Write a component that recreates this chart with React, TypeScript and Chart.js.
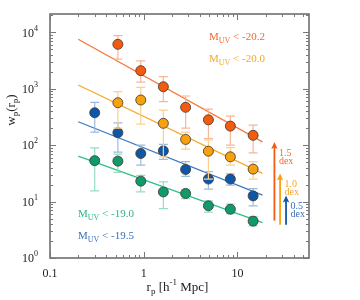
import React, { useEffect, useRef } from "react";
import { Chart, registerables } from "chart.js";

Chart.register(...registerables);

// ---- data ----
const rp = [0.3, 0.53, 0.93, 1.62, 2.8, 4.9, 8.4, 14.7];
const rpBright = rp.slice(1);

const redW = [6100, 2080, 1080, 467, 280, 217, 149];
const redHi = [8700, 3100, 1630, 741, 435, 327, 226];
const redLo = [3320, 1300, 587, 200, 130, 100, 73];

const orW = [563, 629, 243, 126, 78, 62, 37.5];
const orHi = [883, 1057, 418, 170, 123, 90, 51];
const orLo = [200, 236, 62, 85, 25, 44, 25];

const blW = [374, 166, 71, 79, 37, 25, 25, 12.6];
const blHi = [573, 248, 100, 103, 51, 34, 31, 17];
const blLo = [170, 75, 44, 56, 28, 16.6, 19.5, 8.4];

const grW = [53, 52, 23, 14.8, 13.9, 8.4, 7.3, 4.5];
const grHi = [89.5, 69, 29, 22.3, 16.5, 10.3, 9, 5.4];
const grLo = [15.5, 33, 14.8, 7.5, 11.3, 6.5, 6.1, 3.7];

const fitX = [0.2, 18.5];
const redFit = [7510, 114];
const orFit = [1161, 31.5];
const blFit = [259, 13];
const grFit = [63.8, 4.25];

const arrowX = [24.8, 28.5, 33];
const arrowBase = [4.6, 3.9, 3.9];
const arrowTop = [113, 31.5, 12.8];
const arrowLabel = ["1.5", "1.0", "0.5"];

const labels = ["-20.2", "-20.0", "-19.0", "-19.5"];
const xMajor = [0.1, 1, 10];
const yMajor = [1, 10, 100, 1000, 10000];
const yExp = ["0", "1", "2", "3", "4"];

const FONT = '"Liberation Serif", "DejaVu Serif", serif';

const C = {
  red: { pt: "#f45a10", line: "#f47a3c", err: "#f9b597", txt: "#f2692c" },
  or: { pt: "#f8a10e", line: "#f9a82a", err: "#fbd08e", txt: "#f4a62a" },
  bl: { pt: "#0d57a6", line: "#3b78c4", err: "#9cbbe0", txt: "#3a6fbf" },
  gr: { pt: "#0f9a6c", line: "#2fbf8a", err: "#98ddc2", txt: "#2cb487" },
};

type Seg = { t: string; s: number; dy?: number };

function richWidth(ctx: CanvasRenderingContext2D, segs: Seg[]) {
  let w = 0;
  for (const g of segs) {
    ctx.font = `${g.s}px ${FONT}`;
    w += ctx.measureText(g.t).width;
  }
  return w;
}

function drawRich(
  ctx: CanvasRenderingContext2D,
  segs: Seg[],
  x: number,
  y: number,
  color: string,
  align: "left" | "center" | "right" = "left"
) {
  const w = richWidth(ctx, segs);
  let cx = align === "left" ? x : align === "center" ? x - w / 2 : x - w;
  ctx.fillStyle = color;
  ctx.textAlign = "left";
  ctx.textBaseline = "alphabetic";
  for (const g of segs) {
    ctx.font = `${g.s}px ${FONT}`;
    ctx.fillText(g.t, cx, y + (g.dy || 0));
    cx += ctx.measureText(g.t).width;
  }
}

const errMap: Record<number, { x: number[]; lo: number[]; hi: number[]; color: string }> = {
  4: { x: rpBright, lo: redLo, hi: redHi, color: C.red.err },
  5: { x: rpBright, lo: orLo, hi: orHi, color: C.or.err },
  6: { x: rp, lo: blLo, hi: blHi, color: C.bl.err },
  7: { x: rp, lo: grLo, hi: grHi, color: C.gr.err },
};

const decoPlugin = {
  id: "deco",
  beforeDatasetDraw(chart: any, args: any) {
    const e = errMap[args.index];
    if (!e) return;
    const ctx = chart.ctx as CanvasRenderingContext2D;
    const xs = chart.scales.x;
    const ys = chart.scales.y;
    ctx.save();
    ctx.strokeStyle = e.color;
    ctx.lineWidth = 1.2;
    for (let i = 0; i < e.x.length; i++) {
      const px = xs.getPixelForValue(e.x[i]);
      const y1 = ys.getPixelForValue(e.lo[i]);
      const y2 = ys.getPixelForValue(e.hi[i]);
      ctx.beginPath();
      ctx.moveTo(px, y1);
      ctx.lineTo(px, y2);
      ctx.moveTo(px - 4.5, y1);
      ctx.lineTo(px + 4.5, y1);
      ctx.moveTo(px - 4.5, y2);
      ctx.lineTo(px + 4.5, y2);
      ctx.stroke();
    }
    ctx.restore();
  },
  afterDraw(chart: any) {
    const ctx = chart.ctx as CanvasRenderingContext2D;
    const xs = chart.scales.x;
    const ys = chart.scales.y;
    const a = chart.chartArea;
    ctx.save();

    // arrows
    const arrowCols = [C.red, C.or, C.bl];
    for (let i = 0; i < arrowX.length; i++) {
      const px = xs.getPixelForValue(arrowX[i]);
      const yb = ys.getPixelForValue(arrowBase[i]);
      const yt = ys.getPixelForValue(arrowTop[i]);
      ctx.strokeStyle = arrowCols[i].pt;
      ctx.fillStyle = arrowCols[i].pt;
      ctx.lineWidth = 1.8;
      ctx.beginPath();
      ctx.moveTo(px, yb);
      ctx.lineTo(px, yt + 5);
      ctx.stroke();
      ctx.beginPath();
      ctx.moveTo(px, yt);
      ctx.lineTo(px - 3.2, yt + 7);
      ctx.lineTo(px, yt + 5.5);
      ctx.lineTo(px + 3.2, yt + 7);
      ctx.closePath();
      ctx.fill();
      const tc = arrowCols[i].txt;
      drawRich(ctx, [{ t: arrowLabel[i], s: 10 }], px + 4.5, yt + 14, tc);
      drawRich(ctx, [{ t: "dex", s: 10 }], px + 4.5, yt + 22, tc);
    }

    // M_UV labels
    const mk = (v: string): Seg[] => [
      { t: "M", s: 11 },
      { t: "UV", s: 8, dy: 3 },
      { t: " < " + v, s: 11 },
    ];
    drawRich(ctx, mk(labels[0]), a.left + 159, a.top + 26, C.red.txt);
    drawRich(ctx, mk(labels[1]), a.left + 159, a.top + 48, C.or.txt);
    drawRich(ctx, mk(labels[2]), a.left + 28, a.top + 203, C.gr.txt);
    drawRich(ctx, mk(labels[3]), a.left + 28, a.top + 225, C.bl.txt);

    // frame
    ctx.strokeStyle = "#666";
    ctx.lineWidth = 1.5;
    ctx.strokeRect(a.left, a.top, a.right - a.left, a.bottom - a.top);

    // ticks
    ctx.lineWidth = 1;
    ctx.strokeStyle = "#777";
    ctx.beginPath();
    for (const d of xMajor) {
      for (let m = 1; m <= 9; m++) {
        const v = d * m;
        if (v > xs.max) continue;
        const px = Math.round(xs.getPixelForValue(v)) + 0.5;
        const len = m === 1 ? 6 : 3;
        ctx.moveTo(px, a.bottom);
        ctx.lineTo(px, a.bottom - len);
        ctx.moveTo(px, a.top);
        ctx.lineTo(px, a.top + len);
      }
    }
    for (const d of yMajor) {
      for (let m = 1; m <= 9; m++) {
        const v = d * m;
        if (v > ys.max) continue;
        const py = Math.round(ys.getPixelForValue(v)) + 0.5;
        const len = m === 1 ? 6 : 3;
        ctx.moveTo(a.left, py);
        ctx.lineTo(a.left + len, py);
        ctx.moveTo(a.right, py);
        ctx.lineTo(a.right - len, py);
      }
    }
    ctx.stroke();

    // tick labels
    const tcol = "#222";
    for (const v of xMajor) {
      const px = xs.getPixelForValue(v);
      drawRich(ctx, [{ t: String(v), s: 12 }], px, a.bottom + 19, tcol, "center");
    }
    yMajor.forEach((v, i) => {
      const py = ys.getPixelForValue(v);
      drawRich(
        ctx,
        [
          { t: "10", s: 12 },
          { t: yExp[i], s: 8, dy: -6 },
        ],
        a.left - 12,
        py + 4.4,
        tcol,
        "right"
      );
    });

    // axis titles
    drawRich(
      ctx,
      [
        { t: "r", s: 13 },
        { t: "p", s: 9, dy: 3 },
        { t: " [h", s: 13 },
        { t: "-1", s: 9, dy: -6 },
        { t: " Mpc]", s: 13 },
      ],
      (a.left + a.right) / 2 - 2,
      a.bottom + 33,
      tcol,
      "center"
    );
    ctx.translate(12, 110);
    ctx.rotate(-Math.PI / 2);
    drawRich(
      ctx,
      [
        { t: "w", s: 13 },
        { t: "p", s: 9, dy: 3 },
        { t: "(r", s: 13 },
        { t: "p", s: 9, dy: 3 },
        { t: ")", s: 13 },
      ],
      0,
      3,
      tcol,
      "center"
    );
    ctx.restore();
  },
};

function lineDs(y: number[], color: string) {
  return {
    type: "line" as const,
    data: fitX.map((x, i) => ({ x, y: y[i] })),
    borderColor: color,
    borderWidth: 1.3,
    pointRadius: 0,
    fill: false,
    order: 2,
  };
}

function ptDs(xs: number[], y: number[], color: string) {
  return {
    type: "scatter" as const,
    data: xs.map((x, i) => ({ x, y: y[i] })),
    backgroundColor: color,
    borderColor: "rgba(70,60,50,0.85)",
    borderWidth: 1,
    pointRadius: 5,
    order: 1,
  };
}

export default function App() {
  const ref = useRef<HTMLCanvasElement | null>(null);
  useEffect(() => {
    if (!ref.current) return;
    const chart = new Chart(ref.current, {
      type: "scatter",
      data: {
        datasets: [
          lineDs(redFit, C.red.line),
          lineDs(orFit, C.or.line),
          lineDs(blFit, C.bl.line),
          lineDs(grFit, C.gr.line),
          ptDs(rpBright, redW, C.red.pt),
          ptDs(rpBright, orW, C.or.pt),
          ptDs(rp, blW, C.bl.pt),
          ptDs(rp, grW, C.gr.pt),
        ] as any,
      },
      options: {
        animation: false,
        responsive: false,
        layout: { padding: { left: 50, top: 14, right: 51, bottom: 42 }, autoPadding: false } as any,
        plugins: { legend: { display: false }, tooltip: { enabled: false } },
        scales: {
          x: { type: "logarithmic", min: 0.1, max: 58, display: false },
          y: { type: "logarithmic", min: 1, max: 21000, display: false },
        },
      },
      plugins: [decoPlugin],
    });
    return () => chart.destroy();
  }, []);
  return (
    <div style={{ position: "fixed", left: 0, top: 0, width: 360, height: 300, background: "#fff" }}>
      <canvas ref={ref} width={360} height={300} style={{ width: 360, height: 300 }} />
    </div>
  );
}
